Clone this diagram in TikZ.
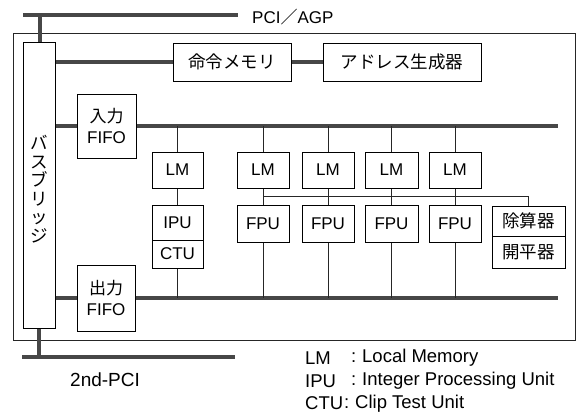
\documentclass[tikz,border=0pt]{standalone}
\usepackage{fontspec}
\setmainfont{Liberation Sans}
\newfontfamily\cjk{Noto Sans CJK JP}
\usetikzlibrary{calc}
\tikzset{
  unit/.style={draw=black, line width=1pt, inner sep=0pt, align=center,
    font=\fontsize{17}{21}\selectfont},
  jp/.style={font=\cjk\fontsize{17.5}{21}\selectfont},
  bus/.style={line width=3.4pt, draw=black!72},
  wire/.style={line width=0.8pt, draw=black!85},
  frame/.style={draw=black!85, line width=0.9pt, inner sep=0pt},
  txt/.style={inner sep=0pt, anchor=west, font=\fontsize{18.5}{21}\selectfont}
}
\begin{document}
\begin{tikzpicture}[x=1pt,y=-1pt]
\useasboundingbox (0,0) rectangle (578,415);
% board
\node[frame, minimum width=562pt, minimum height=307pt, anchor=north west] (board) at (13,33) {};
% bridge
\node[unit, minimum width=32pt, minimum height=286pt] (bridge) at (39,185) {};
\node[jp, inner sep=0pt, align=center, font=\cjk\fontsize{17.5}{18.5}\selectfont] (bridgetext) at (39,189) {バ\\ス\\ブ\\リ\\ッ\\ジ};
% top units
\node[unit, jp, minimum width=118pt, minimum height=38pt] (imem) at (232,62) {命令メモリ};
\node[unit, jp, minimum width=158pt, minimum height=38pt] (agen) at (402,62) {アドレス生成器};
% fifos
\node[unit, minimum width=59pt, minimum height=64pt] (infifo) at (106.5,126) {{\cjk 入力}\\FIFO};
\node[unit, minimum width=58pt, minimum height=66pt] (outfifo) at (106,298) {{\cjk 出力}\\FIFO};
% LMs
\node[unit, minimum width=51pt, minimum height=36pt] (lm1) at (177.5,170) {LM};
\node[unit, minimum width=52pt, minimum height=36pt] (lm2) at (263,170) {LM};
\node[unit, minimum width=52pt, minimum height=36pt] (lm3) at (328,170) {LM};
\node[unit, minimum width=53pt, minimum height=36pt] (lm4) at (391.5,170) {LM};
\node[unit, minimum width=52pt, minimum height=36pt] (lm5) at (455,170) {LM};
% processing units
\node[unit, minimum width=51pt, minimum height=35pt] (ipu) at (177.5,222.5) {IPU};
\node[unit, minimum width=51pt, minimum height=28pt] (ctu) at (177.5,254) {CTU};
\node[unit, minimum width=52pt, minimum height=37pt] (fpu1) at (263,223.5) {FPU};
\node[unit, minimum width=52pt, minimum height=37pt] (fpu2) at (328,223.5) {FPU};
\node[unit, minimum width=53pt, minimum height=37pt] (fpu3) at (391.5,223.5) {FPU};
\node[unit, minimum width=52pt, minimum height=37pt] (fpu4) at (455,223.5) {FPU};
\node[unit, jp, minimum width=73pt, minimum height=30pt] (div) at (528.5,221) {除算器};
\node[unit, jp, minimum width=73pt, minimum height=32pt] (sqrt) at (528.5,252) {開平器};
% bus ends
\coordinate (pciL) at (23,15);
\coordinate (pciR) at (238,15);
\coordinate (pci2L) at (22,357);
\coordinate (pci2R) at (235,357);
\coordinate (ibR) at (558,126);
\coordinate (obR) at (558,298);
% buses
\draw[bus] (pciL) -- (pciR);
\draw[bus] (pci2L) -- (pci2R);
\draw[bus] (bridge.north -| 40,0) -- (pciL -| 40,0);
\draw[bus] (bridge.south -| 39,0) -- (pci2L -| 39,0);
\draw[bus] (bridge.east |- imem) -- (imem.west);
\draw[bus] (imem.east) -- (agen.west);
\draw[bus] (bridge.east |- infifo) -- (infifo.west);
\draw[bus] (infifo.east) -- (ibR);
\draw[bus] (bridge.east |- outfifo) -- (outfifo.west);
\draw[bus] (outfifo.east) -- (obR);
% wires
\foreach \n in {lm1,lm2,lm3,lm4,lm5} {
  \draw[wire] (\n.north |- ibR) -- (\n.north);
}
\draw[wire] (lm1.south) -- (ipu.north);
\draw[wire] (ctu.south) -- (ctu.south |- obR);
\draw[wire] (lm2.south) -- (fpu1.north);
\draw[wire] (lm3.south) -- (fpu2.north);
\draw[wire] (lm4.south) -- (fpu3.north);
\draw[wire] (lm5.south) -- (fpu4.north);
\foreach \n in {fpu1,fpu2,fpu3,fpu4} {
  \draw[wire] (\n.south) -- (\n.south |- obR);
}
\draw[wire] ($(lm2.south)!0.5!(fpu1.north)$) -| (div.north);
% labels
\node[txt, font=\fontsize{17}{21}\selectfont] (pcilabel) at (252,17) {PCI{\cjk ／}AGP};
\node[txt, font=\fontsize{19}{21}\selectfont] (pci2label) at (70,380) {2nd-PCI};
\node[txt] (k1) at (305,358) {LM};
\node[txt] (c1) at (351,358) {:};
\node[txt] (d1) at (362,358) {Local Memory};
\node[txt] (k2) at (305,381) {IPU};
\node[txt] (c2) at (351,381) {:};
\node[txt] (d2) at (362,381) {Integer Processing Unit};
\node[txt] (k3) at (305,403.5) {CTU};
\node[txt] (c3) at (344,403.5) {:};
\node[txt] (d3) at (355,403.5) {Clip Test Unit};
\end{tikzpicture}
\end{document}
